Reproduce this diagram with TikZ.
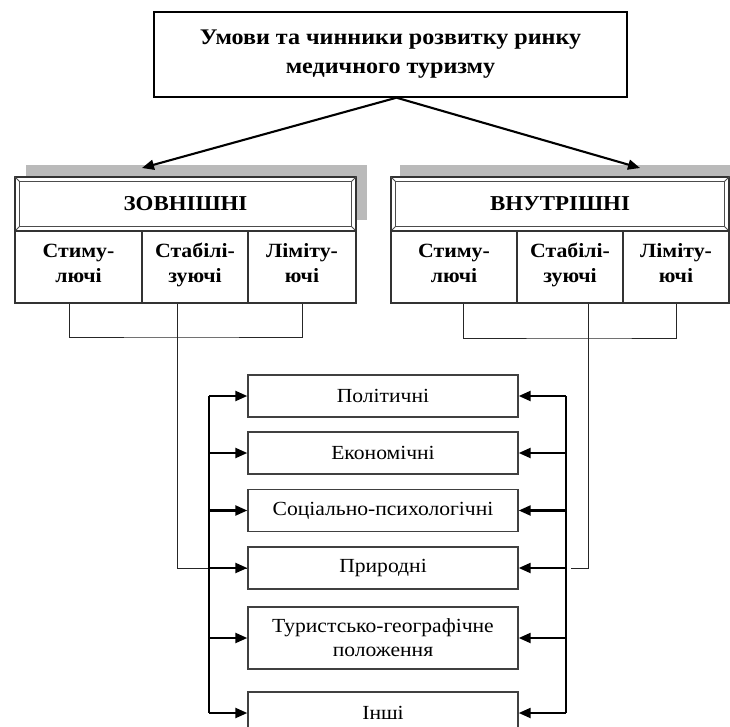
\documentclass[tikz,border=0pt]{standalone}
\usepackage{fontspec}
\setmainfont{Liberation Serif}[FakeStretch=1.08]
\usetikzlibrary{arrows.meta}

\begin{document}
\begin{tikzpicture}[x=1pt,y=-1pt]
        \tikzstyle{every node}=[inner sep=0pt,align=center,font=\fontsize{20}{24}\selectfont]
        \tikzstyle{top}=[draw=black,line width=1.4pt,fill=white,minimum width=473pt,minimum height=85pt,font=\bfseries\fontsize{22.3}{29}\selectfont]
        \tikzstyle{hdr}=[draw=black!80,line width=1.3pt,fill=white,minimum height=54pt,font=\bfseries\fontsize{21.2}{24}\selectfont]
        \tikzstyle{cell}=[draw=black!80,line width=1.3pt,fill=white,minimum height=72pt,execute at begin node=\strut,font=\bfseries\fontsize{20.2}{25}\selectfont]
        \tikzstyle{fact}=[draw=black!75,line width=1.4pt,fill=white,minimum width=270pt,minimum height=42pt]
        \tikzstyle{shade}=[fill=black!27]
        \tikzstyle{thinln}=[black!85,line width=1pt]
        \tikzstyle{bus}=[black,line width=2.3pt]
        \tikzstyle{arr}=[black,line width=2.3pt,-{Triangle[length=12pt,width=10pt]}]
        \useasboundingbox (0,0) rectangle (730,727);
        \fill[shade] (26,165) rectangle (367,220);
        \fill[shade] (400,165) rectangle (730,220);
        \node[top] (goal) at (390.5,54.5) {Умови та чинники розвитку ринку\\медичного туризму};
        \coordinate (tipL) at (142,168);
        \coordinate (tipR) at (640,168);
        \draw[arr,line width=2.1pt] ([xshift=6]goal.south) -- (tipL);
        \draw[arr,line width=2.1pt] ([xshift=6]goal.south) -- (tipR);
        \node[hdr,minimum width=341pt] (ext) at (185.5,204) {ЗОВНІШНІ};
        \node[hdr,minimum width=338pt] (int) at (560,204) {ВНУТРІШНІ};
        \foreach \h in {ext,int} {
          \draw[black!70,line width=1pt] ([shift={(5,5)}]\h.north west) rectangle ([shift={(-5,-5)}]\h.south east);
          \draw[black!70,line width=0.8pt] (\h.north west) -- ++(5,5) (\h.north east) -- ++(-5,5) (\h.south west) -- ++(5,-5) (\h.south east) -- ++(-5,-5);
        }
        \node[cell,minimum width=127pt] (eS) at (78.5,267) {Стиму-\\лючі};
        \node[cell,minimum width=106pt] (eB) at (195,267) {Стабілі-\\зуючі};
        \node[cell,minimum width=108pt] (eL) at (302,267) {Ліміту-\\ючі};
        \node[cell,minimum width=126pt] (iS) at (454,267) {Стиму-\\лючі};
        \node[cell,minimum width=106pt] (iB) at (570,267) {Стабілі-\\зуючі};
        \node[cell,minimum width=106pt] (iL) at (676,267) {Ліміту-\\ючі};
        \node[fact] (f1) at (383,396) {Політичні};
        \node[fact] (f2) at (383,453) {Економічні};
        \node[fact] (f3) at (383,510.5) {Соціально-психологічні};
        \node[fact] (f4) at (383,568) {Природні};
        \node[fact,minimum height=62pt] (f5) at (383,638) {Туристсько-географічне\\положення};
        \node[fact] (f6) at (383,713) {Інші};
        \coordinate (jE) at (177,337);
        \coordinate (jI) at (588,338);
        \draw[thinln] ([xshift=-9.5]eS.south) |- (jE) -| (eL.south);
        \draw[thinln] ([xshift=-18]eB.south) |- (f4.west);
        \draw[thinln] ([xshift=9]iS.south) |- (jI) -| (iL.south);
        \draw[thinln] ([xshift=18]iB.south) |- ([xshift=52]f4.east);
        \draw[bus] ([xshift=-38]f1.west) -- ([xshift=-38]f6.west);
        \draw[bus] ([xshift=47]f1.east) -- ([xshift=47]f6.east);
        \foreach \i in {1,...,6} {
          \draw[arr] ([xshift=-38]f\i.west) -- (f\i.west);
          \draw[arr] ([xshift=47]f\i.east) -- (f\i.east);
        }
    \end{tikzpicture}
\end{document}
